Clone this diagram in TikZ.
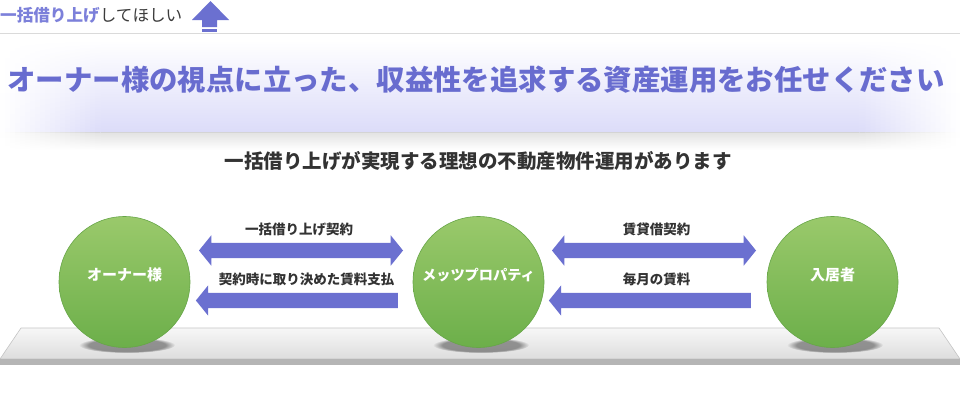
\documentclass[tikz,border=0pt]{standalone}
\usepackage{fontspec}
\setmainfont{Noto Sans CJK JP}
\usetikzlibrary{shapes.arrows,fadings}
\definecolor{arrowblue}{HTML}{6B70D0}
\definecolor{titleblue}{HTML}{686CCF}
\definecolor{hdrblue}{HTML}{7C80DA}
\definecolor{hdrtext}{HTML}{3C3C3C}
\definecolor{lav}{HTML}{DCDCF9}
\definecolor{bandshadow}{HTML}{E2E2E2}
\definecolor{bandline}{HTML}{D4D4D4}
\definecolor{greentop}{HTML}{9AC96B}
\definecolor{greenbot}{HTML}{6CAF4A}
\definecolor{greenedge}{HTML}{67A648}
\definecolor{plattop}{HTML}{F7F7F7}
\definecolor{platbot}{HTML}{DDDDDD}
\definecolor{platedge}{HTML}{C4C4C4}
\definecolor{platfront}{HTML}{B5B5B5}
\definecolor{darktext}{HTML}{333333}
\definecolor{hdrline}{HTML}{DADADA}
\begin{document}
\begin{tikzpicture}[x=1pt,y=-1pt,
  party/.style={circle, minimum size=131pt, inner sep=0pt, draw=greenedge, line width=0.6pt,
    top color=greentop, bottom color=greenbot},
  partylabel/.style={text=white, inner sep=0pt, font=\bfseries\fontsize{15}{17}\selectfont},
  arrlabel/.style={text=darktext, inner sep=0pt, font=\bfseries\fontsize{13.5}{15}\selectfont},
  dblarr/.style={double arrow, fill=arrowblue, draw=none, inner sep=7.5pt, minimum width=30pt,
    double arrow head extend=7.5pt, double arrow tip angle=102, minimum height=204pt},
  leftarr/.style={single arrow, shape border rotate=180, fill=arrowblue, draw=none, inner sep=7.5pt,
    minimum width=30pt, single arrow head extend=7.5pt, single arrow tip angle=102, minimum height=202pt},
  cshadow/.style={fill=black, opacity=0.38, path fading=circle with fuzzy edge 20 percent}
]
\useasboundingbox (0,0) rectangle (960,415);
\fill[white] (0,0) rectangle (960,415);

% header
\node[anchor=west, inner sep=0pt, font=\fontsize{16.6}{18}\selectfont] (hdr) at (0,15)
  {{\bfseries\color{hdrblue}一括借り上げ}{\color{hdrtext}してほしい}};
\fill[arrowblue] (210.5,1) -- (229,20) -- (217,20) -- (217,27) -- (202,27) -- (202,20) -- (192,20) -- cycle;
\fill[arrowblue] (202,28.7) rectangle (217,31.7);
\draw[hdrline, line width=0.8pt] (0,33) -- (960,33);

% title band
\shade[top color=white, bottom color=lav] (99.5,40) rectangle (860.5,132);
\shade[top color=bandshadow, bottom color=white] (99.5,132) rectangle (860.5,150);
\draw[bandline, line width=0.7pt] (99.5,132) -- (860.5,132);
\foreach \i [evaluate=\i as \f using (\i+0.5)*5] in {0,...,19}{
  \shade[top color=white, bottom color=lav!\f!white] (\i*5,40) rectangle (\i*5+5.4,132);
  \shade[top color=bandshadow!\f!white, bottom color=white] (\i*5,132) rectangle (\i*5+5.4,150);
  \draw[bandline!\f!white, line width=0.7pt] (\i*5,132) -- (\i*5+5.4,132);
  \shade[top color=white, bottom color=lav!\f!white] (960-\i*5-5.4,40) rectangle (960-\i*5,132);
  \shade[top color=bandshadow!\f!white, bottom color=white] (960-\i*5-5.4,132) rectangle (960-\i*5,150);
  \draw[bandline!\f!white, line width=0.7pt] (960-\i*5-5.4,132) -- (960-\i*5,132);
}
\node[text=titleblue, inner sep=0pt, font=\bfseries\fontsize{28.4}{30}\selectfont] (title) at (476,80)
  {オーナー様の視点に立った、収益性を追求する資産運用をお任せください};

% subtitle
\node[text=darktext, inner sep=0pt, font=\bfseries\fontsize{19.5}{21}\selectfont] (sub) at (478,161)
  {一括借り上げが実現する理想の不動産物件運用があります};

% platform
\shade[top color=plattop, bottom color=platbot, draw=platedge, line width=0.6pt]
  (21,328) -- (939,328) -- (960,359) -- (0,359) -- cycle;
\fill[platfront] (0,359) rectangle (960,365);

% circle shadows
\fill[cshadow] (127,345) ellipse [x radius=48, y radius=8];
\fill[cshadow] (481,345) ellipse [x radius=48, y radius=8];
\fill[cshadow] (835,345) ellipse [x radius=48, y radius=8];

% parties
\node[party] (owner) at (124.5,282) {};
\node[party] (mets) at (478.5,282) {};
\node[party] (tenant) at (832.5,282) {};
\node[partylabel] (ownerl) at (124.5,275) {オーナー様};
\node[partylabel] (metsl) at (478.5,275) {\fontsize{14.2}{16}\selectfont メッツプロパティ};
\node[partylabel] (tenantl) at (832.5,275) {入居者};

% arrows
\node[dblarr] (a1) at (301,250.5) {};
\node[leftarr] (a2) at (300,300.5) {};
\node[dblarr] (a3) at (654,250.5) {};
\node[leftarr] (a4) at (653,300.5) {};
\node[arrlabel] (l1) at (299,229) {一括借り上げ契約};
\node[arrlabel] (l2) at (306.5,279) {契約時に取り決めた賃料支払};
\node[arrlabel] (l3) at (656.5,229) {賃貸借契約};
\node[arrlabel] (l4) at (656.5,279) {毎月の賃料};
\end{tikzpicture}
\end{document}
